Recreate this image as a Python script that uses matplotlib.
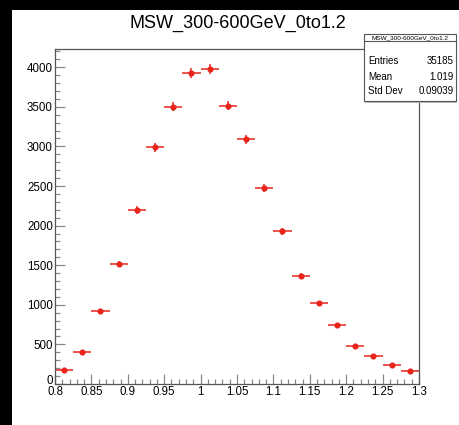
#!/usr/bin/env python3
import numpy as np
import matplotlib
matplotlib.use("Agg")
import matplotlib.pyplot as plt
import matplotlib.transforms as mtransforms
from matplotlib.patches import Rectangle
from matplotlib.ticker import MultipleLocator

plt.rcParams['font.family'] = ['Liberation Sans', 'DejaVu Sans']

title = "MSW_300-600GeV_0to1.2"
bin_lo = 0.8
bin_w = 0.025
counts = [180, 404, 920, 1520, 2195, 2990, 3500, 3925, 3972, 3515,
          3090, 2477, 1930, 1362, 1022, 747, 486, 356, 242, 170]
stats_names = ["Entries", "Mean", "Std Dev"]
stats_vals = ["35185", "1.019", "0.09039"]

W, H = 459, 425
fig = plt.figure(figsize=(W/100, H/100), dpi=100, facecolor='white')
# black border strips (top and left)
fig.patches.append(Rectangle((0, 1 - 10/H), 1, 10/H, transform=fig.transFigure,
                             facecolor='black', edgecolor='none', zorder=0))
fig.patches.append(Rectangle((0, 0), 12/W, 1, transform=fig.transFigure,
                             facecolor='black', edgecolor='none', zorder=0))

x0, x1, yt, yb = 55, 419, 49, 384
ax = fig.add_axes([x0/W, 1 - yb/H, (x1 - x0)/W, (yb - yt)/H])

counts = np.array(counts, dtype=float)
centers = bin_lo + bin_w*(np.arange(len(counts)) + 0.5)
red = '#e8241b'
ax.errorbar(centers, counts, xerr=bin_w/2, yerr=np.sqrt(counts), fmt='o',
            color=red, ecolor=red, ms=3.4, elinewidth=1.1, capsize=0)

ax.set_xlim(0.8, 1.3)
ax.set_ylim(0, 4230)
ax.xaxis.set_minor_locator(MultipleLocator(0.01))
ax.yaxis.set_major_locator(MultipleLocator(500))
ax.yaxis.set_minor_locator(MultipleLocator(100))
xt = np.arange(0.8, 1.3001, 0.05)
ax.set_xticks(xt)
ax.set_xticklabels(["%g" % round(v, 2) for v in xt])
yt_vals = np.arange(0, 4001, 500)
ax.set_yticks(yt_vals)
ax.set_yticklabels(["%d" % v for v in yt_vals])
ax.tick_params(which='both', direction='in', top=False, right=False,
               color='#888888', labelsize=8.3, labelcolor='black', width=0.9)
ax.tick_params(which='major', length=7.2)
ax.tick_params(which='minor', length=3.6)
ax.tick_params(axis='x', pad=1.5)
ax.tick_params(axis='y', pad=1.5)
for s in ax.spines.values():
    s.set_color('#555555')
    s.set_linewidth(0.9)
# lift the "0" label a little, like ROOT does
lab0 = ax.get_yticklabels()[0]
lab0.set_transform(lab0.get_transform() +
                   mtransforms.ScaledTranslation(0, 4/100, fig.dpi_scale_trans))

fig.text(238/W, 1 - 23/H, title, ha='center', va='center', fontsize=13)

# stats box
bx0, bx1, by0, by1, bdiv = 364, 456, 34, 101, 41
fig.patches.append(Rectangle((bx0/W + 1/W, 1 - by1/H - 1.5/H), (bx1 - bx0)/W, (by1 - by0)/H,
                             transform=fig.transFigure, facecolor='#bbbbbb',
                             edgecolor='none', zorder=3))
fig.patches.append(Rectangle((bx0/W, 1 - by1/H), (bx1 - bx0)/W, (by1 - by0)/H,
                             transform=fig.transFigure, facecolor='white',
                             edgecolor='#555555', lw=0.8, zorder=4))
fig.lines.append(plt.Line2D([bx0/W, bx1/W], [1 - bdiv/H, 1 - bdiv/H],
                            transform=fig.transFigure, color='#555555', lw=0.8, zorder=5))
fig.text((bx0 + bx1)/2/W, 1 - (by0 + bdiv)/2/H, title, ha='center', va='center',
         fontsize=4.6, zorder=6)
for i, (n, v) in enumerate(zip(stats_names, stats_vals)):
    yy = 1 - (61.5 + 15*i)/H
    fig.text(368/W, yy, n, ha='left', va='center', fontsize=7, zorder=6)
    fig.text((bx1 - 2)/W, yy, v, ha='right', va='center', fontsize=7, zorder=6)

fig.savefig("out.png", dpi=100, facecolor=fig.get_facecolor())
